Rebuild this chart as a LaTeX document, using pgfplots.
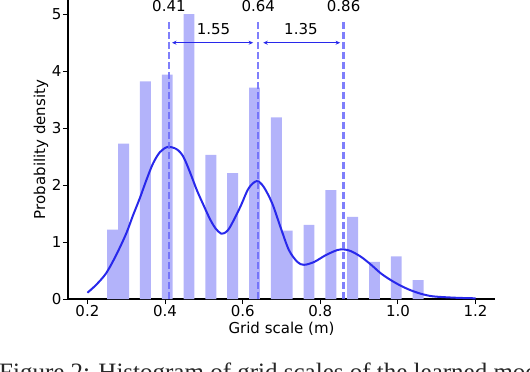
\documentclass[border=0pt]{standalone}
\usepackage{fontspec}
\setmainfont{DejaVu Sans}
\newfontfamily\capfont{Liberation Serif}
\usepackage{pgfplots}
\pgfplotsset{compat=1.18}
\usetikzlibrary{arrows.meta}
\definecolor{barc}{RGB}{179,179,250}
\definecolor{kdec}{RGB}{40,40,235}
\definecolor{vlc}{RGB}{105,105,250}
\begin{document}
\begin{tikzpicture}
\useasboundingbox (-68pt,-73pt) rectangle (462pt,299pt);
\clip (-68pt,-73pt) rectangle (462pt,299pt);
\begin{axis}[
  at={(0,0)}, anchor=south west,
  scale only axis, width=427pt, height=299pt,
  xmin=0.15, xmax=1.25, ymin=0, ymax=5.25,
  axis x line*=bottom, axis y line*=left,
  axis line style={line width=1.2pt, black, -},
  tick align=outside, major tick length=5pt,
  tick style={line width=1pt, black},
  xtick={0.2,0.4,0.6,0.8,1.0,1.2},
  ytick={0,1,2,3,4,5},
  xticklabel style={/pgf/number format/.cd, fixed, fixed zerofill, precision=1, /tikz/.cd},
  /pgf/number format/assume math mode=true,
  ticklabel style={font=\fontsize{15}{18}\selectfont},
  xticklabel style={anchor=north, inner sep=0pt, yshift=-1.5pt},
  yticklabel style={anchor=east, inner sep=0pt, xshift=-1.5pt},
  xlabel={Grid scale (m)}, ylabel={Probability density},
  label style={font=\fontsize{15}{18}\selectfont},
  xlabel style={at={(axis description cs:0.5,0)}, anchor=center, yshift=-30pt},
  ylabel style={at={(axis description cs:0,0.5)}, anchor=center, yshift=27pt},
  clip=false,
]
\addplot[ybar, bar width=0.0281, bar shift=0pt, fill=barc, draw=none] coordinates {
(0.2651,1.22) (0.2932,2.73) (0.3494,3.82) (0.4056,3.94) (0.4618,5.00)
(0.5180,2.53) (0.5742,2.21) (0.6304,3.71) (0.6866,3.19) (0.7147,1.20)
(0.7709,1.30) (0.8271,1.91) (0.8833,1.44) (0.9395,0.65) (0.9957,0.75)
(1.0519,0.33)
};
\addplot[kdec, line width=2pt, smooth, no markers] coordinates {
(0.200,0.11) (0.222,0.245) (0.248,0.45) (0.274,0.77) (0.300,1.15)
(0.317,1.46) (0.335,1.77) (0.352,2.09) (0.369,2.38) (0.387,2.58)
(0.407,2.67) (0.430,2.63) (0.447,2.50) (0.464,2.23) (0.482,1.91)
(0.499,1.65) (0.516,1.40) (0.530,1.24) (0.544,1.15) (0.556,1.17)
(0.568,1.27) (0.594,1.62) (0.615,1.94) (0.636,2.07) (0.654,1.97)
(0.676,1.68) (0.697,1.27) (0.719,0.86) (0.741,0.65) (0.758,0.60)
(0.784,0.65) (0.814,0.77) (0.844,0.86) (0.861,0.87) (0.879,0.84)
(0.905,0.74) (0.931,0.60) (0.956,0.45) (0.982,0.33) (1.008,0.23)
(1.034,0.15) (1.060,0.09) (1.086,0.05) (1.112,0.035) (1.155,0.02)
(1.200,0.012)
};
\addplot[vlc, opacity=0.85, line width=2.5pt, dash pattern=on 7pt off 3pt] coordinates {(0.41,0) (0.41,4.9)};
\addplot[vlc, opacity=0.85, line width=2.5pt, dash pattern=on 7pt off 3pt] coordinates {(0.64,0) (0.64,4.9)};
\addplot[vlc, opacity=0.85, line width=2.5pt, dash pattern=on 7pt off 3pt] coordinates {(0.86,0) (0.86,4.9)};
\addplot[kdec, line width=1.4pt, {Stealth[length=4.5pt,width=4pt]}-{Stealth[length=4.5pt,width=4pt]}] coordinates {(0.418,4.5) (0.627,4.5)};
\addplot[kdec, line width=1.4pt, {Stealth[length=4.5pt,width=4pt]}-{Stealth[length=4.5pt,width=4pt]}] coordinates {(0.653,4.5) (0.851,4.5)};
\node[font=\fontsize{15}{18}\selectfont, inner sep=0pt] at (axis cs:0.41,5.14) {0.41};
\node[font=\fontsize{15}{18}\selectfont, inner sep=0pt] at (axis cs:0.64,5.14) {0.64};
\node[font=\fontsize{15}{18}\selectfont, inner sep=0pt] at (axis cs:0.86,5.14) {0.86};
\node[font=\fontsize{15}{18}\selectfont, inner sep=0pt] at (axis cs:0.525,4.74) {1.55};
\node[font=\fontsize{15}{18}\selectfont, inner sep=0pt] at (axis cs:0.75,4.74) {1.35};
\end{axis}
\node[anchor=base west, inner sep=0pt, font=\capfont\fontsize{25}{30}\selectfont, text=black!85] at (-69pt,-81pt) {Figure 2: Histogram of grid scales of the learned models};
\end{tikzpicture}
\end{document}
